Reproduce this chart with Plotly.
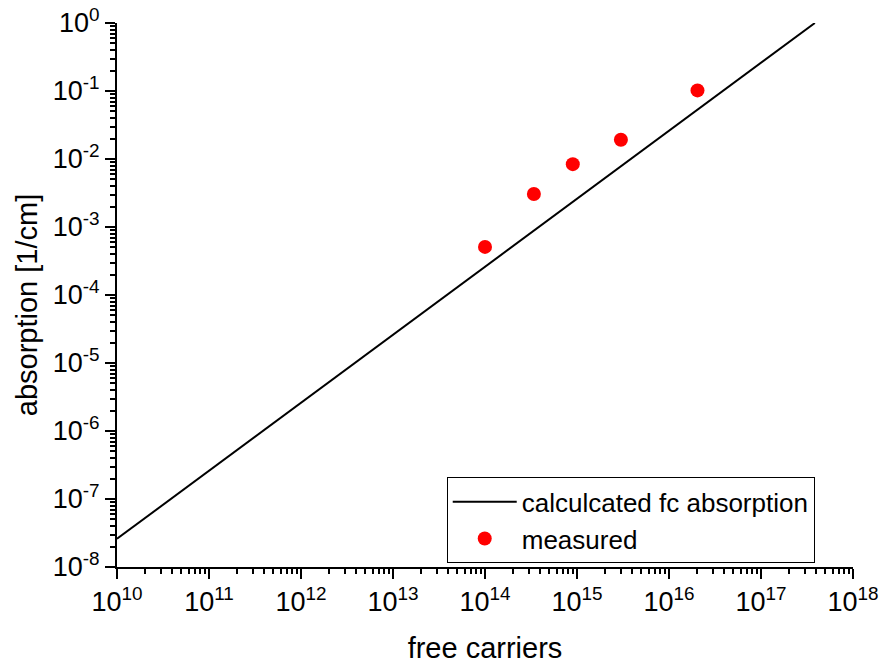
import plotly.graph_objects as go

# calculated free-carrier absorption line (end points)
calc_x = [1e10, 3.85e17]
calc_y = [2.6e-8, 1.0]

# measured points
meas_x = [1.0e14, 3.4e14, 9.0e14, 3.0e15, 2.04e16]
meas_y = [5.1e-4, 3.05e-3, 8.4e-3, 1.92e-2, 0.102]

x_exps = list(range(10, 19))
y_exps = list(range(-8, 1))
x_ticktext = [f"10<sup>{e}</sup>" for e in x_exps]
y_ticktext = [f"10<sup>{e}</sup>" for e in y_exps]

x_title = "free carriers"
y_title = "absorption [1/cm]"

FONT = "Liberation Sans, Arial, sans-serif"

fig = go.Figure()
fig.add_trace(go.Scatter(x=calc_x, y=calc_y, mode="lines",
                         line=dict(color="black", width=2),
                         name="calculcated fc absorption"))
fig.add_trace(go.Scatter(x=meas_x, y=meas_y, mode="markers",
                         marker=dict(color="#ff0000", size=14),
                         name="measured"))

def minor_vals(exps):
    return [m * 10 ** e for e in exps[:-1] for m in range(2, 10)]

fig.update_layout(
    width=879, height=664,
    margin=dict(l=117, r=26, t=23, b=97),
    paper_bgcolor="white", plot_bgcolor="white",
    font=dict(family=FONT, size=27, color="black"),
    showlegend=True,
    legend=dict(x=0.448, y=0.165, xanchor="left", yanchor="top",
                bordercolor="black", borderwidth=1, bgcolor="white",
                font=dict(size=26), tracegroupgap=0, itemwidth=64),
    xaxis=dict(type="log", range=[10, 18], showgrid=False, zeroline=False,
               showline=True, linecolor="black", linewidth=2, automargin=False,
               ticks="outside", ticklen=10, tickwidth=2, tickcolor="black",
               tickmode="array", tickvals=[10 ** e for e in x_exps], ticktext=x_ticktext,
               tickfont=dict(size=27),
               minor=dict(tickmode="array", tickvals=minor_vals(x_exps),
                          ticks="outside", ticklen=5, tickwidth=2, tickcolor="black", showgrid=False),
               title=dict(text=x_title, font=dict(size=29), standoff=22)),
    yaxis=dict(type="log", range=[-8, 0], showgrid=False, zeroline=False,
               showline=True, linecolor="black", linewidth=2, automargin=False,
               ticks="outside", ticklen=10, tickwidth=2, tickcolor="black",
               tickmode="array", tickvals=[10 ** e for e in y_exps], ticktext=y_ticktext,
               tickfont=dict(size=27),
               minor=dict(tickmode="array", tickvals=minor_vals(y_exps),
                          ticks="outside", ticklen=5, tickwidth=2, tickcolor="black", showgrid=False)),
    annotations=[dict(text=y_title, textangle=-90, xref="paper", yref="paper",
                      x=-0.122, y=0.4816, xanchor="center", yanchor="middle",
                      showarrow=False, font=dict(size=29))],
)

fig.write_html("out.html")
